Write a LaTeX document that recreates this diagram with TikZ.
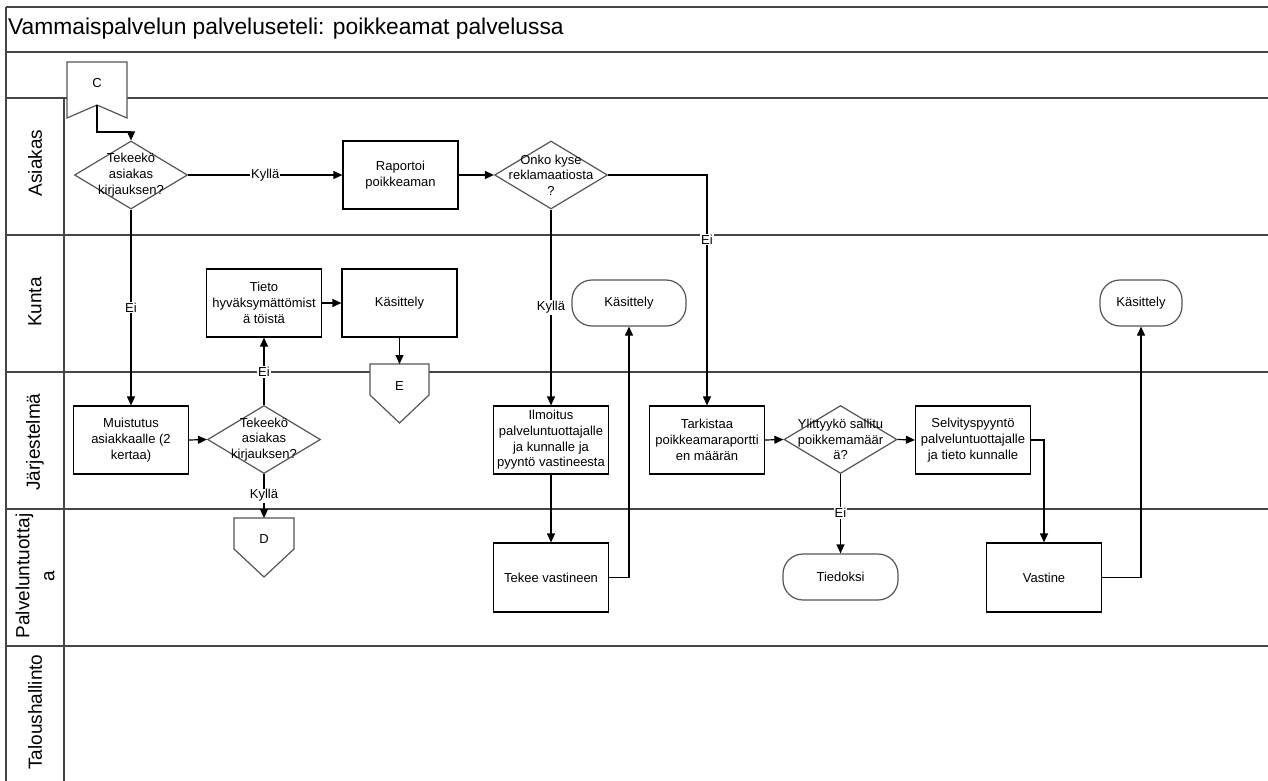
\documentclass[tikz,border=0pt]{standalone}
\usepackage{fontspec}
\setmainfont{Liberation Sans}
\usetikzlibrary{shapes.geometric,arrows.meta,calc}
\definecolor{laneline}{RGB}{70,70,70}
\definecolor{shapeline}{RGB}{85,85,85}
\newcommand{\nodefont}{\fontsize{13}{15.7}\selectfont}
\begin{document}
\begin{tikzpicture}[x=1pt,y=-1pt,
  lane/.style={line width=1.5pt, draw=laneline},
  txt/.style={font=\nodefont, align=center, inner sep=0pt},
  box/.style={draw=black, fill=white, line width=1.2pt, minimum width=115, minimum height=68,
              inner sep=2pt, font=\nodefont, align=center},
  decision/.style={diamond, draw=shapeline, fill=white, line width=1.2pt,
              minimum width=113, minimum height=68, inner sep=0pt},
  term/.style={rectangle, rounded corners=20pt, draw=shapeline, fill=white, line width=1.2pt,
              minimum width=114, minimum height=46, font=\nodefont, align=center},
  offpage/.style={draw=shapeline, fill=white, line width=1.2pt, line join=miter},
  arr/.style={line width=1.2pt, -{Triangle[length=9pt,width=8pt]}},
  lbl/.style={fill=white, inner sep=1pt, font=\nodefont},
  lanelbl/.style={rotate=90, font=\fontsize{19}{25}\selectfont, align=center, inner sep=0pt}]

\useasboundingbox (0,0) rectangle (1268,781);
\fill[white] (0,0) rectangle (1268,781);

% pool frame, title band, header row and lanes
\draw[lane] (6,7) -- (1268,7);
\draw[lane] (6,52) -- (1268,52);
\draw[lane] (6,98) -- (1268,98);
\draw[lane] (6,235) -- (1268,235);
\draw[lane] (6,372) -- (1268,372);
\draw[lane] (6,509) -- (1268,509);
\draw[lane] (6,646) -- (1268,646);
\draw[lane] (6,7) -- (6,781);
\draw[lane] (64,98) -- (64,781);

\node[anchor=west, font=\fontsize{22.8}{26}\selectfont, inner sep=0pt] (title) at (8,29)
  {Vammaispalvelun palveluseteli: poikkeamat palvelussa};

\node[lanelbl] (lAsiakas) at (35,163) {Asiakas};
\node[lanelbl] (lKunta) at (35,302) {Kunta};
\node[lanelbl] (lJarj) at (35,442) {Järjestelmä};
\node[lanelbl] (lPalv) at (35,576) {Palveluntuottaj\\a};
\node[lanelbl] (lTalous) at (35,712) {Taloushallinto};

% off-page connectors
\draw[offpage] (67,62) -- (127,62) -- (127,118) -- (97,105) -- (67,118) -- cycle;
\node[txt] (C) at (97,83) {C};
\coordinate (Cn) at (97,105);

\draw[offpage] (370,364) -- (429,364) -- (429,395) -- (399.5,423) -- (370,395) -- cycle;
\node[txt] (E) at (399.5,386) {E};
\coordinate (Etop) at (399.5,364);

\draw[offpage] (234,518) -- (294,518) -- (294,549) -- (264,577) -- (234,549) -- cycle;
\node[txt] (D) at (264,539) {D};
\coordinate (Dtop) at (264,518);

% Asiakas
\node[decision] (d1) at (131,175) {};
\node[txt] (d1t) at (d1.center) {Tekeekö\\asiakas\\kirjauksen?};
\node[box] (rap) at (400.5,175) {Raportoi\\poikkeaman};
\node[decision] (d2) at (551,175) {};
\node[txt] (d2t) at (d2.center) {Onko kyse\\reklamaatiosta\\?};

% Kunta
\node[box] (tieto) at (264,303) {Tieto\\hyväksymättömist\\ä töistä};
\node[box] (kas1) at (399.5,303) {Käsittely};
\node[term] (kas2) at (629,303) {Käsittely};
\node[term, minimum width=82] (kas3) at (1141,303) {Käsittely};

% Järjestelmä
\node[box] (muist) at (131,440) {Muistutus\\asiakkaalle (2\\kertaa)};
\node[decision] (d3) at (264,439.5) {};
\node[txt] (d3t) at (d3.center) {Tekeekö\\asiakas\\kirjauksen?};
\node[box] (ilm) at (551,440) {Ilmoitus\\palveluntuottajalle\\ja kunnalle ja\\pyyntö vastineesta};
\node[box] (tark) at (707,440) {Tarkistaa\\poikkeamaraportti\\en määrän};
\node[decision] (d4) at (840.5,439.5) {};
\node[txt] (d4t) at (d4.center) {Ylittyykö sallitu\\poikkemamäär\\ä?};
\node[box] (selv) at (973,440) {Selvityspyyntö\\palveluntuottajalle\\ja tieto kunnalle};

% Palveluntuottaja
\node[box, minimum height=69] (tekee) at (551,577.5) {Tekee vastineen};
\node[term, minimum width=115] (tied) at (840.5,577) {Tiedoksi};
\node[box, minimum height=69] (vast) at (1044,577.5) {Vastine};

% flow
\draw[arr] (Cn) -- ++(0,27) -| (d1.north);
\draw[arr] (d1.east) -- node[lbl] {Kyllä} (rap.west);
\draw[arr] (rap.east) -- (d2.west);
\draw[arr] (d2.east) -| node[lbl, pos=0.64] {Ei} (tark.north);
\draw[arr] (d2.south) -- node[lbl, pos=0.5] {Kyllä} (ilm.north);
\draw[arr] (d1.south) -- node[lbl, pos=0.5] {Ei} (muist.north);
\draw[arr] (muist.east) -- (d3.west);
\draw[arr] (d3.north) -- node[lbl, pos=0.49] {Ei} (tieto.south);
\draw[arr] (d3.south) -- node[lbl, pos=0.49] {Kyllä} (Dtop);
\draw[arr] (tieto.east) -- (kas1.west);
\draw[arr] (kas1.south) -- (Etop);
\draw[arr] (ilm.south) -- (tekee.north);
\draw[arr] (tekee.east) -| (kas2.south);
\draw[arr] (tark.east) -- (d4.west);
\draw[arr] (d4.east) -- (selv.west);
\draw[arr] (d4.south) -- node[lbl, pos=0.49] {Ei} (tied.north);
\draw[arr] (selv.east) -| (vast.north);
\draw[arr] (vast.east) -| (kas3.south);

\end{tikzpicture}
\end{document}
